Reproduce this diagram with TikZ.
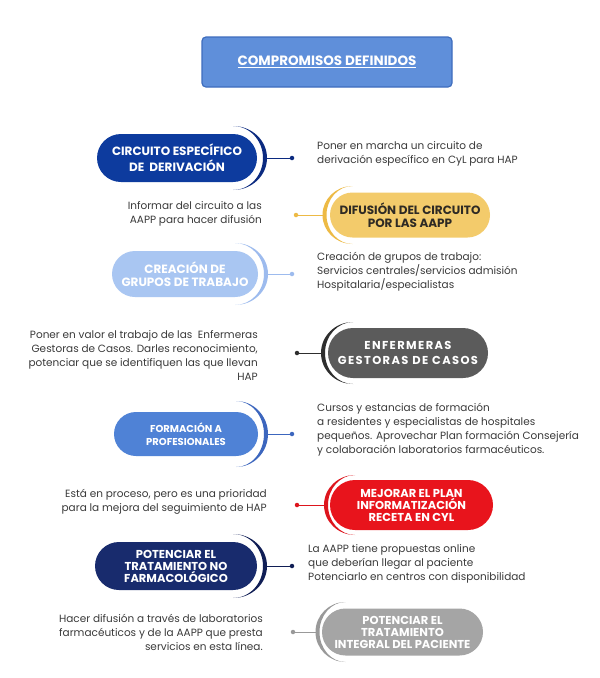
\documentclass[tikz,border=0pt]{standalone}
\usepackage{fontspec}
\setmainfont{Poppins}
\usepackage{tikz}
\usetikzlibrary{shapes.misc}

\definecolor{titlefill}{HTML}{5F8FDA}
\definecolor{titleline}{HTML}{3E6DBD}
\definecolor{derivfill}{HTML}{0D3B9E}
\definecolor{derivarc}{HTML}{0B2A80}
\definecolor{difufill}{HTML}{F3CB6B}
\definecolor{difuarc}{HTML}{EDBA45}
\definecolor{difutext}{HTML}{2E2A24}
\definecolor{gruposfill}{HTML}{A9C6F2}
\definecolor{gruposarc}{HTML}{9DBBEE}
\definecolor{gestfill}{HTML}{5B5B5B}
\definecolor{gestarc}{HTML}{2E2E2E}
\definecolor{formfill}{HTML}{4F82D6}
\definecolor{formarc}{HTML}{3C66BE}
\definecolor{recetafill}{HTML}{E8141C}
\definecolor{recetaarc}{HTML}{DD151D}
\definecolor{nofarmfill}{HTML}{182B6D}
\definecolor{nofarmarc}{HTML}{101E55}
\definecolor{integfill}{HTML}{A5A5A5}
\definecolor{integarc}{HTML}{999999}
\definecolor{notegray}{HTML}{3A3A3A}

\begin{document}
\begin{tikzpicture}[x=1pt, y=-1pt, every node/.style={inner sep=0pt},
    titlebox/.style={draw=titleline, fill=titlefill, line width=1.2pt, rounded corners=4pt,
      minimum width=250pt, minimum height=50pt, text=white, font=\bfseries\fontsize{13.5}{15}\selectfont},
    pill/.style={rounded rectangle, text=white, align=center, font=\bfseries\fontsize{12}{13}\selectfont},
    threeline/.style={font=\bfseries\fontsize{11.5}{12}\selectfont},
    note/.style={text=notegray, font=\fontsize{10.5}{14}\selectfont},
    dot/.style={circle, minimum size=4.5pt},
    link/.style={line width=0.9pt}]
  \useasboundingbox (0,0) rectangle (600,678);
  \fill[white] (0,0) rectangle (600,678);

  \node[titlebox] (title) at (327,62) {\underline{COMPROMISOS DEFINIDOS}};

  % circuito de derivacion
  \node[pill, fill=derivfill, minimum width=160pt, minimum height=48pt] (deriv) at (177,158) {CIRCUITO ESPECÍFICO\\[3pt]DE\ \ DERIVACIÓN};
  \fill[derivarc] (233,126) arc[start angle=-90, end angle=90, x radius=34, y radius=32]
    arc[start angle=90, end angle=-90, x radius=30, y radius=32] -- cycle;
  \coordinate (deriv-a) at (266,158);
  \node[dot, fill=derivarc] (deriv-d) at (292,158) {};
  \draw[link, derivarc] (deriv-a) -- (deriv-d);
  \node[note, anchor=west, align=left] (deriv-t) at (317,154) {Poner en marcha un circuito de\\derivación específico en CyL para HAP};

  % difusion
  \node[pill, fill=difufill, text=difutext, minimum width=160pt, minimum height=45pt] (difu) at (410,215) {DIFUSIÓN DEL CIRCUITO\\POR LAS AAPP};
  \fill[difuarc] (352.5,186) arc[start angle=270, end angle=90, x radius=30, y radius=29]
    arc[start angle=90, end angle=270, x radius=26, y radius=29] -- cycle;
  \coordinate (difu-a) at (323,215);
  \node[dot, fill=difuarc] (difu-d) at (296,215) {};
  \draw[link, difuarc] (difu-a) -- (difu-d);
  \node[note, anchor=east, align=right] (difu-t) at (262,214) {Informar del circuito a las\\AAPP para hacer difusión};

  % grupos de trabajo
  \node[pill, fill=gruposfill, minimum width=146pt, minimum height=46pt] (grupos) at (185,274) {CREACIÓN DE\\GRUPOS DE TRABAJO};
  \fill[gruposarc] (235,243) arc[start angle=-90, end angle=90, x radius=33, y radius=31]
    arc[start angle=90, end angle=-90, x radius=29, y radius=31] -- cycle;
  \coordinate (grupos-a) at (267,274);
  \node[dot, fill=gruposarc] (grupos-d) at (292,274) {};
  \draw[link, gruposarc] (grupos-a) -- (grupos-d);
  \node[note, anchor=west, align=left] (grupos-t) at (317,272) {Creación de grupos de trabajo:\\Servicios centrales/servicios admisión\\Hospitalaria/especialistas};

  % enfermeras gestoras
  \node[pill, fill=gestfill, minimum width=160pt, minimum height=50pt,
    font=\bfseries\fontsize{11.5}{15}\selectfont\addfontfeature{LetterSpace=12}] (gest) at (408,353) {ENFERMERAS\\GESTORAS DE CASOS};
  \fill[gestarc] (353,322) arc[start angle=270, end angle=90, x radius=32, y radius=31]
    arc[start angle=90, end angle=270, x radius=28, y radius=31] -- cycle;
  \coordinate (gest-a) at (322,353);
  \node[dot, fill=gestarc] (gest-d) at (297,353) {};
  \draw[link, gestarc] (gest-a) -- (gest-d);
  \node[note, anchor=east, align=right] (gest-t) at (258,355) {Poner en valor el trabajo de las\ \ Enfermeras\\Gestoras de Casos. Darles reconocimiento,\\potenciar que se identifiquen las que llevan\\HAP};

  % formacion
  \node[pill, fill=formfill, minimum width=144pt, minimum height=44pt,
    font=\bfseries\fontsize{10}{13}\selectfont] (form) at (186,434) {FORMACIÓN A\\PROFESIONALES};
  \fill[formarc] (236,401) arc[start angle=-90, end angle=90, x radius=32, y radius=33]
    arc[start angle=90, end angle=-90, x radius=28, y radius=33] -- cycle;
  \coordinate (form-a) at (267,434);
  \node[dot, fill=formarc] (form-d) at (292,434) {};
  \draw[link, formarc] (form-a) -- (form-d);
  \node[note, anchor=west, align=left] (form-t) at (317,430) {Cursos y estancias de formación\\a residentes y especialistas de hospitales\\pequeños. Aprovechar Plan formación Consejería\\y colaboración laboratorios farmacéuticos.};

  % receta
  \node[pill, threeline, fill=recetafill, minimum width=163pt, minimum height=50pt] (receta) at (411.5,505) {MEJORAR EL PLAN\\INFORMATIZACIÓN\\RECETA EN CYL};
  \fill[recetaarc] (355,475) arc[start angle=270, end angle=90, x radius=31, y radius=30]
    arc[start angle=90, end angle=270, x radius=27, y radius=30] -- cycle;
  \coordinate (receta-a) at (325,505);
  \node[dot, fill=recetaarc] (receta-d) at (297,505) {};
  \draw[link, recetaarc] (receta-a) -- (receta-d);
  \node[note, anchor=east, align=right] (receta-t) at (267,502) {Está en proceso, pero es una prioridad\\para la mejora del seguimiento de HAP};

  % no farmacologico
  \node[pill, threeline, fill=nofarmfill, minimum width=162pt, minimum height=48pt] (nofarm) at (176,566) {POTENCIAR EL\\TRATAMIENTO NO\\FARMACOLÓGICO};
  \fill[nofarmarc] (233,534) arc[start angle=-90, end angle=90, x radius=34, y radius=32]
    arc[start angle=90, end angle=-90, x radius=30, y radius=32] -- cycle;
  \coordinate (nofarm-a) at (266,566);
  \node[dot, fill=nofarmarc] (nofarm-d) at (292,566) {};
  \draw[link, nofarmarc] (nofarm-a) -- (nofarm-d);
  \node[note, anchor=west, align=left] (nofarm-t) at (308,564) {La AAPP tiene propuestas online\\que deberían llegar al paciente\\Potenciarlo en centros con disponibilidad};

  % tratamiento integral
  \node[pill, threeline, fill=integfill, minimum width=161pt, minimum height=47pt] (integ) at (402.5,632) {POTENCIAR EL\\TRATAMIENTO\\INTEGRAL DEL PACIENTE};
  \fill[integarc] (345.5,602) arc[start angle=270, end angle=90, x radius=30, y radius=30]
    arc[start angle=90, end angle=270, x radius=26, y radius=30] -- cycle;
  \coordinate (integ-a) at (316,632);
  \node[dot, fill=integarc] (integ-d) at (293,632) {};
  \draw[link, integarc] (integ-a) -- (integ-d);
  \node[note, anchor=east, align=right] (integ-t) at (263,632) {Hacer difusión a través de laboratorios\\farmacéuticos y de la AAPP que presta\\servicios en esta línea.};
\end{tikzpicture}
\end{document}
